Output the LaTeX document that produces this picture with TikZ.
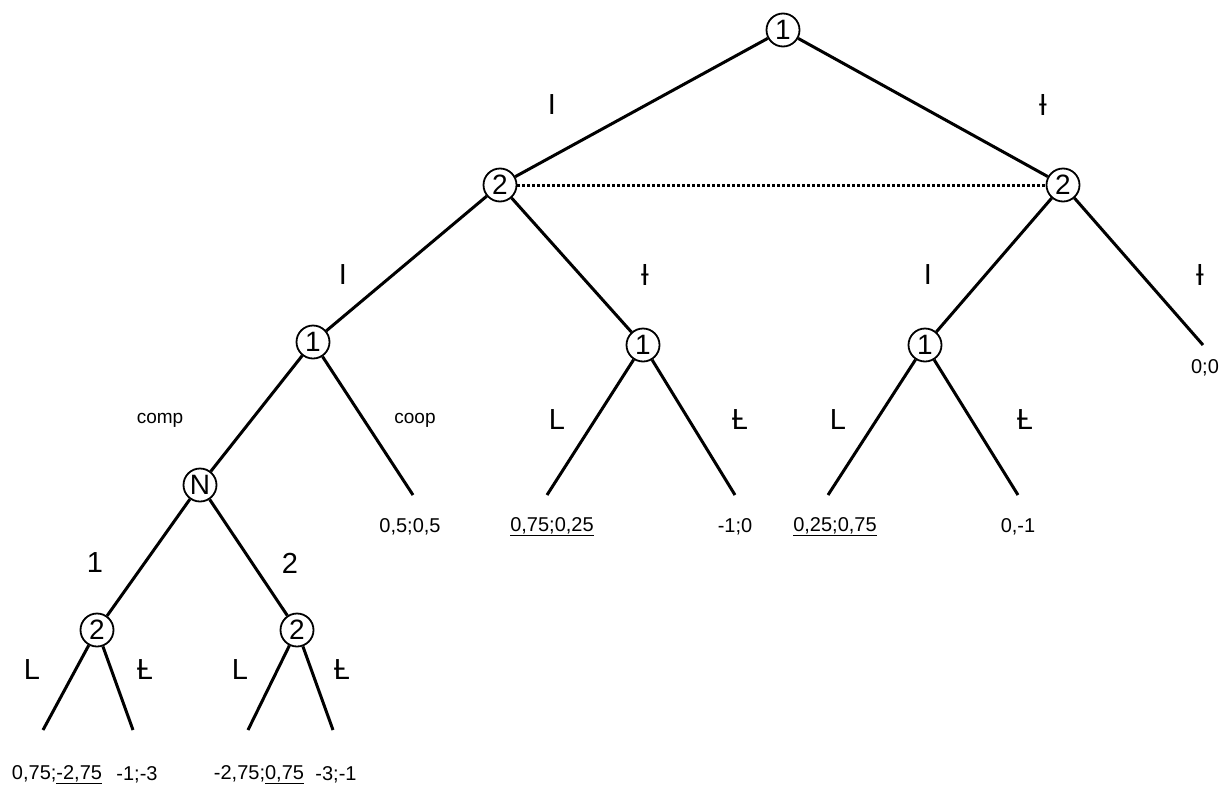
\documentclass[tikz,border=0pt]{standalone}
\usepackage{fontspec}
\setmainfont{Liberation Sans}
\begin{document}
\begin{tikzpicture}[x=1pt,y=-1pt,
 pl/.style={circle,draw,line width=1.8pt,inner sep=0pt,minimum size=33pt,font=\fontsize{28}{28}\selectfont},
 edge/.style={line width=3pt},
 bl/.style={font=\fontsize{29}{29}\selectfont},
 sm/.style={font=\fontsize{19}{19}\selectfont},
 pay/.style={font=\fontsize{20}{20}\selectfont}]
\useasboundingbox (0,0) rectangle (1228,790);
% decision nodes
\node[pl] (r) at (783,30) {1};
\node[pl] (a) at (500,185) {2};
\node[pl] (b) at (1063,185) {2};
\node[pl] (c) at (313,342) {1};
\node[pl] (d) at (643,345) {1};
\node[pl] (e) at (925,345) {1};
\node[pl] (n) at (200,485) {N};
\node[pl] (f) at (97,630) {2};
\node[pl] (g) at (297,630) {2};
% leaf ends
\coordinate (bR) at (1203,345);
\coordinate (cR) at (413,495);
\coordinate (dL) at (547,495);
\coordinate (dR) at (735,495);
\coordinate (eL) at (828,495);
\coordinate (eR) at (1018,495);
\coordinate (fL) at (43,730);
\coordinate (fR) at (133,730);
\coordinate (gL) at (248,730);
\coordinate (gR) at (333,730);
% edges
\draw[edge] (r) -- (a);
\draw[edge] (r) -- (b);
\draw[line width=3pt, dash pattern=on 2.5pt off 2.5pt] (a) -- (b);
\draw[edge] (a) -- (c);
\draw[edge] (a) -- (d);
\draw[edge] (b) -- (e);
\draw[edge] (b) -- (bR);
\draw[edge] (c) -- (n);
\draw[edge] (c) -- (cR);
\draw[edge] (d) -- (dL);
\draw[edge] (d) -- (dR);
\draw[edge] (e) -- (eL);
\draw[edge] (e) -- (eR);
\draw[edge] (n) -- (f);
\draw[edge] (n) -- (g);
\draw[edge] (f) -- (fL);
\draw[edge] (f) -- (fR);
\draw[edge] (g) -- (gL);
\draw[edge] (g) -- (gR);
% branch labels
\node[bl] (l1) at (552,105) {I};
\node[bl] (l2) at (1043,105) {Ɨ};
\node[bl] (l3) at (343,275) {I};
\node[bl] (l4) at (645,275) {Ɨ};
\node[bl] (l5) at (928,275) {I};
\node[bl] (l6) at (1200,275) {Ɨ};
\node[sm] (l7) at (160,420) {comp};
\node[sm] (l8) at (415,420) {coop};
\node[bl] (l9) at (557,420) {L};
\node[bl] (l10) at (740,420) {Ƚ};
\node[bl] (l11) at (838,420) {L};
\node[bl] (l12) at (1025,420) {Ƚ};
\node[bl] (l13) at (95,563) {1};
\node[bl] (l14) at (290,563) {2};
\node[bl] (l15) at (32,670) {L};
\node[bl] (l16) at (145,670) {Ƚ};
\node[bl] (l17) at (240,670) {L};
\node[bl] (l18) at (342,670) {Ƚ};
% payoffs
\node[pay] (p1) at (1205,368) {0;0};
\node[pay] (p2) at (410,527) {0,5;0,5};
\node[pay] (p3) at (552,527) {\underline{0,75;0,25}};
\node[pay] (p4) at (735,527) {-1;0};
\node[pay] (p5) at (835,527) {\underline{0,25;0,75}};
\node[pay] (p6) at (1018,527) {0,-1};
\node[pay] (p7) at (57,775) {0,75;\underline{-2,75}};
\node[pay] (p8) at (137,775) {-1;-3};
\node[pay] (p9) at (259,775) {-2,75;\underline{0,75}};
\node[pay] (p10) at (336,775) {-3;-1};
\end{tikzpicture}
\end{document}
